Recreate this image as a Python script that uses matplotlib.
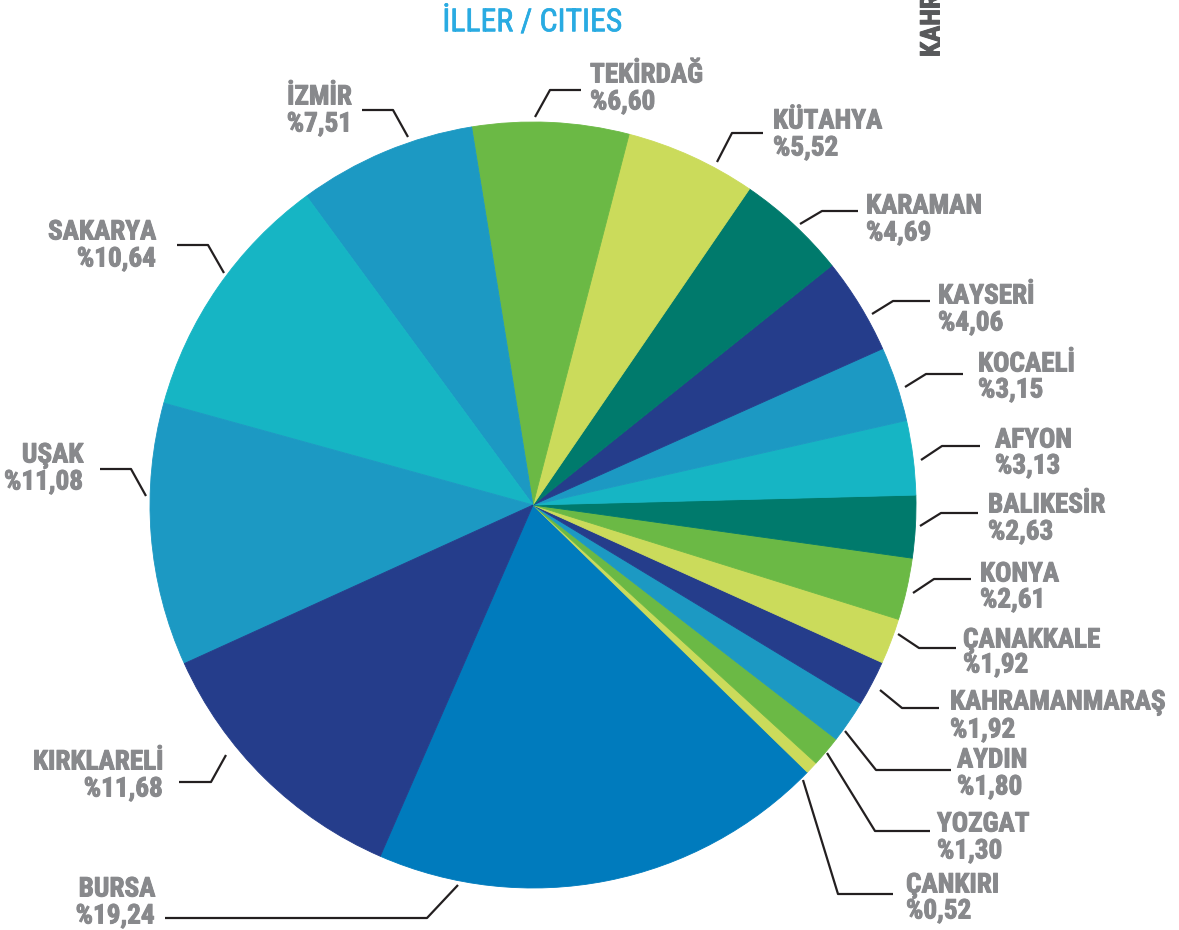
import matplotlib.pyplot as plt
from matplotlib import font_manager as fm
import matplotlib.patheffects as pe

# Veri
iller = ['BURSA', 'ÇANKIRI', 'YOZGAT', 'AYDIN', 'KAHRAMANMARAŞ', 'ÇANAKKALE',
         'KONYA', 'BALIKESİR', 'AFYON', 'KOCAELİ', 'KAYSERİ', 'KARAMAN',
         'KÜTAHYA', 'TEKİRDAĞ', 'İZMİR', 'SAKARYA', 'UŞAK', 'KIRKLARELİ']
oranlar = [19.24, 0.52, 1.30, 1.80, 1.92, 1.92, 2.61, 2.63, 3.13, 3.15,
           4.06, 4.69, 5.52, 6.60, 7.51, 10.64, 11.08, 11.68]

# Renkler
MAVI = '#007bbd'
SARI = '#cbdb5b'
YESIL = '#6bb945'
ORTA_MAVI = '#1c99c3'
LACIVERT = '#253d8b'
KOYU_YESIL = '#007a6c'
TURKUAZ = '#16b5c4'
renkler = [MAVI, SARI, YESIL, ORTA_MAVI, LACIVERT, SARI, YESIL, KOYU_YESIL,
           TURKUAZ, ORTA_MAVI, LACIVERT, KOYU_YESIL, SARI, YESIL, ORTA_MAVI,
           TURKUAZ, ORTA_MAVI, LACIVERT]

# Etiket yerleşimi (piksel): uç, dirsek, yatay çizgi sonu, yazı x, isim y, oran y, hizalama
yerlesim = {
    'BURSA':         ((458, 885), (427, 918), (165, 918), 155, 889, 916, 'right'),
    'ÇANKIRI':       ((803, 780), (838, 894), (893, 894), 906, 885, 911, 'left'),
    'YOZGAT':        ((827, 753), (875, 831), (930, 831), 937, 824, 851, 'left'),
    'AYDIN':         ((845, 731), (876, 770), (951, 770), 957, 760, 787, 'left'),
    'KAHRAMANMARAŞ': ((880, 690), (902, 708), (939, 708), 950, 702, 730, 'left'),
    'ÇANAKKALE':     ((898, 634), (919, 648), (956, 648), 963, 640, 665, 'left'),
    'KONYA':         ((913, 593), (934, 579), (971, 579), 980, 574, 600, 'left'),
    'BALIKESİR':     ((920, 526), (941, 513), (978, 513), 988, 505, 532, 'left'),
    'AFYON':         ((921, 460), (942, 446), (980, 446), 995, 440, 466, 'left'),
    'KOCAELİ':       ((905, 387), (926, 374), (963, 374), 978, 364, 390, 'left'),
    'KAYSERİ':       ((872, 314), (893, 301), (930, 301), 938, 296, 323, 'left'),
    'KARAMAN':       ((800, 224), (822, 211), (858, 211), 866, 206, 233, 'left'),
    'KÜTAHYA':       ((717, 162), (732, 133), (763, 133), 773, 121, 148, 'left'),
    'TEKİRDAĞ':      ((535, 117), (550, 90), (581, 90), 590, 75, 102, 'left'),
    'İZMİR':         ((408, 137), (393, 110), (362, 110), 352, 97, 124, 'right'),
    'SAKARYA':       ((224, 273), (208, 245), (177, 245), 156, 232, 259, 'right'),
    'UŞAK':          ((146, 496), (131, 469), (100, 469), 83, 455, 482, 'right'),
    'KIRKLARELİ':    ((226, 755), (211, 782), (179, 782), 163, 762, 789, 'right'),
}

# Dar bir yazı tipi bul (yoksa DejaVu Sans)
aile, genislik = 'DejaVu Sans', 'normal'
adlar = {f.name for f in fm.fontManager.ttflist}
for ad in ['Liberation Sans Narrow', 'Roboto Condensed', 'Noto Sans Condensed',
           'Open Sans Condensed', 'DejaVu Sans Condensed']:
    if ad in adlar:
        aile = ad
        break
else:
    for f in fm.fontManager.ttflist:
        if f.name == 'DejaVu Sans' and 'condensed' in str(f.stretch):
            genislik = 'condensed'
            break

plt.rcParams['font.family'] = [aile, 'DejaVu Sans']

fig = plt.figure(figsize=(11.79, 9.30), dpi=100)
ax = fig.add_axes([0, 0, 1, 1])

wedges, _ = ax.pie(oranlar, colors=renkler, center=(533, 505), radius=383,
                   startangle=113.5, counterclock=False)
for w in wedges:
    w.set_edgecolor(w.get_facecolor())
    w.set_linewidth(0.6)

ax.set_xlim(0, 1179)
ax.set_ylim(930, 0)
ax.set_aspect('equal')
ax.axis('off')

# Yazı boyunu referans genişliğe göre ayarla
r = fig.canvas.get_renderer()
t = ax.text(0, 0, 'KAHRAMANMARAŞ', fontsize=20, fontweight='bold', fontstretch=genislik)
boy = 20 * 216 / t.get_window_extent(r).width
t.remove()
t = ax.text(0, 0, 'İLLER / CITIES', fontsize=20, fontstretch=genislik)
baslik_boy = 20 * 180 / t.get_window_extent(r).width
t.remove()

GRI = '#88898c'
kalin = [pe.withStroke(linewidth=0.7, foreground=GRI)]
for il, oran in zip(iller, oranlar):
    uc, dirsek, son, tx, y1, y2, ha = yerlesim[il]
    ax.plot([uc[0], dirsek[0], son[0]], [uc[1], dirsek[1], son[1]],
            color='#231f20', lw=1.6, solid_capstyle='butt')
    ax.text(tx, y1, il, ha=ha, va='center', fontsize=boy, fontweight='bold',
            fontstretch=genislik, color=GRI, path_effects=kalin)
    ax.text(tx, y2, '%' + f'{oran:.2f}'.replace('.', ','), ha=ha, va='center',
            fontsize=boy, fontweight='bold', fontstretch=genislik, color=GRI,
            path_effects=kalin)

# Başlık
ax.text(532, 22, 'İLLER / CITIES', ha='center', va='center', fontsize=baslik_boy,
        fontstretch=genislik, color='#29abe2',
        path_effects=[pe.withStroke(linewidth=0.5, foreground='#29abe2')])

# Kesilmiş yan başlık
ax.text(932, 57, 'KAHRAMANMARAŞ', rotation=90, ha='center', va='bottom',
        fontsize=boy, fontweight='bold', fontstretch=genislik, color='#58595b',
        path_effects=[pe.withStroke(linewidth=0.7, foreground='#58595b')])

fig.savefig('out.png', dpi=100)
